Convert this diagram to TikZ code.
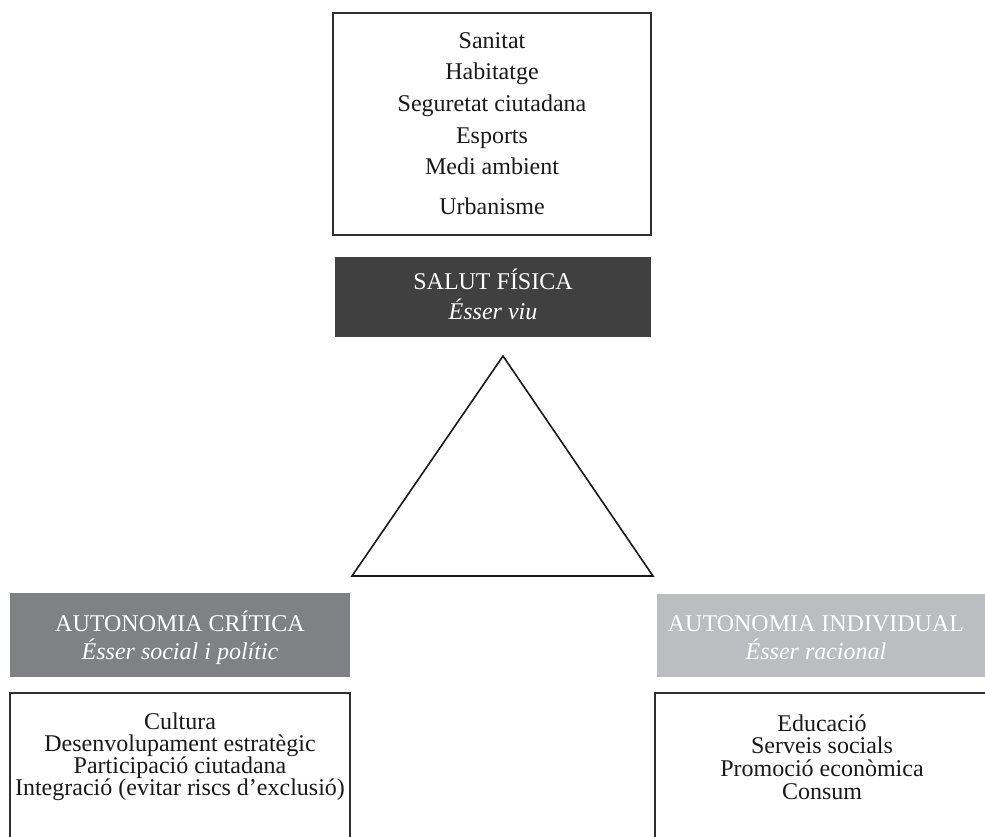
\documentclass[tikz,border=0pt]{standalone}
\usepackage{fontspec}
\setmainfont{Liberation Serif}
\definecolor{linec}{HTML}{2E2E2E}
\definecolor{darkc}{HTML}{404040}
\definecolor{midc}{HTML}{808184}
\definecolor{lightc}{HTML}{BCBDC0}
\begin{document}
\begin{tikzpicture}[x=1pt,y=-1pt]
\useasboundingbox (0,0) rectangle (985,836);
\tikzset{
  frame/.style={draw=linec, line width=1.5pt},
  filled/.style={inner sep=0pt, outer sep=0pt, anchor=north west},
  item/.style={font=\fontsize{24}{24}\selectfont, text=black!90, anchor=center, inner sep=0pt, text height=1.5ex, text depth=.25ex, yshift=-4pt},
  head/.style={item, text=white},
  sub/.style={item, text=white, font=\fontsize{24}{24}\selectfont\itshape},
  tri/.style={draw=black!90, line width=1.6pt, line join=miter}
}
% top box
\node[frame, filled, minimum width=318pt, minimum height=222pt] (topbox) at (333,13) {};
\node[item] (t1) at (492,42) {Sanitat};
\node[item] (t2) at (492,73) {Habitatge};
\node[item] (t3) at (492,105) {Seguretat ciutadana};
\node[item] (t4) at (492,137) {Esports};
\node[item] (t5) at (492,168) {Medi ambient};
\node[item] (t6) at (492,208) {Urbanisme};
% salut fisica
\node[filled, fill=darkc, minimum width=316pt, minimum height=80pt] (sbox) at (335,257) {};
\node[head] (s1) at (493,283) {SALUT FÍSICA};
\node[sub] (s2) at (493,313) {Ésser viu};
% triangle
\coordinate (apex) at (503,356);
\coordinate (bl) at (352,576);
\coordinate (br) at (653,576);
\draw[tri] (apex) -- (bl) -- (br) -- cycle;
% left grey
\node[filled, fill=midc, minimum width=340pt, minimum height=84pt] (lbox) at (10,593) {};
\node[head] (l1) at (180,625) {AUTONOMIA CRÍTICA};
\node[sub] (l2) at (180,653) {Ésser social i polític};
% left white
\coordinate (lw1) at (10,840);
\coordinate (lw2) at (10,693);
\coordinate (lw3) at (350,693);
\coordinate (lw4) at (350,840);
\draw[frame] (lw1) -- (lw2) -- (lw3) -- (lw4);
\node[item] (c1) at (180,723) {Cultura};
\node[item] (c2) at (180,745) {Desenvolupament estratègic};
\node[item] (c3) at (180,767) {Participació ciutadana};
\node[item] (c4) at (180,789) {Integració (evitar riscs d’exclusió)};
% right grey
\node[filled, fill=lightc, minimum width=328pt, minimum height=83pt] (rbox) at (657,594) {};
\node[head] (r1) at (816,625) {AUTONOMIA INDIVIDUAL};
\node[sub] (r2) at (816,653) {Ésser racional};
% right white
\coordinate (rw1) at (655,840);
\coordinate (rw2) at (655,693);
\coordinate (rw3) at (990,693);
\draw[frame] (rw1) -- (rw2) -- (rw3);
\node[item] (e1) at (822,725) {Educació};
\node[item] (e2) at (822,747) {Serveis socials};
\node[item] (e3) at (822,770) {Promoció econòmica};
\node[item] (e4) at (822,793) {Consum};
\end{tikzpicture}
\end{document}
